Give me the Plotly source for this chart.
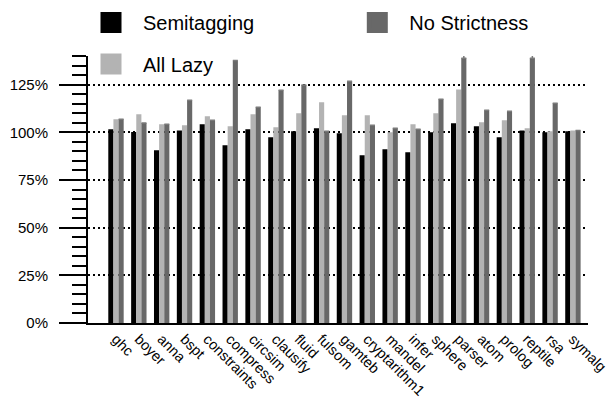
import plotly.graph_objects as go

categories = ["ghc", "boyer", "anna", "bspt", "constraints", "compress", "circsim",
              "clausify", "fluid", "fulsom", "gamteb", "cryptarithm1", "mandel",
              "infer", "sphere", "parser", "atom", "prolog", "reptile", "rsa", "symalg"]

semitagging = [101.6, 100.2, 90.6, 101.0, 104.2, 93.2, 101.6, 97.4, 100.5, 102.1, 99.5,
               88.0, 91.1, 89.5, 100.0, 104.7, 103.1, 97.4, 101.0, 100.0, 100.5]
all_lazy = [106.8, 109.4, 104.2, 103.7, 108.4, 103.1, 109.4, 102.6, 110.0, 115.7, 108.9,
            108.9, 100.0, 104.2, 110.0, 122.5, 105.2, 106.3, 102.1, 100.5, 101.0]
no_strictness = [106.8, 104.9, 104.2, 116.8, 106.3, 137.7, 113.1, 122.0, 124.8, 100.5, 126.7,
                 103.7, 102.1, 101.6, 117.3, 138.8, 111.5, 111.0, 138.8, 115.2, 101.0]
# off-scale indicator above clipped bars (parser, reptile)
no_strictness_overflow = [None] * 15 + [7.7] + [None] * 2 + [7.7] + [None] * 2

y_ticks = [0, 25, 50, 75, 100, 125]
y_tick_labels = ["0%", "25%", "50%", "75%", "100%", "125%"]

BLACK = "#000000"
LIGHT = "#b3b3b3"
DARK = "#686868"
FONT = "Liberation Sans, Arial, Helvetica, sans-serif"

fig = go.Figure()
fig.add_trace(go.Bar(x=categories, y=semitagging, name="Semitagging",
                     marker=dict(color=BLACK, line=dict(width=0)), showlegend=False))
fig.add_trace(go.Bar(x=categories, y=all_lazy, name="All Lazy",
                     marker=dict(color=LIGHT, line=dict(width=0)), showlegend=False))
fig.add_trace(go.Bar(x=categories, y=no_strictness, name="No Strictness",
                     marker=dict(color=DARK, line=dict(width=0)), showlegend=False,
                     cliponaxis=False,
                     error_y=dict(type="data", symmetric=False, array=no_strictness_overflow,
                                  arrayminus=[0] * len(categories), color="#7a7a7a",
                                  thickness=1.5, width=2.5)))

# legend entries
for name, col, lg in [("Semitagging", BLACK, "legend"), ("No Strictness", DARK, "legend2"),
                      ("All Lazy", LIGHT, "legend3")]:
    fig.add_trace(go.Scatter(x=[None], y=[None], mode="markers", name=name, legend=lg,
                             marker=dict(symbol="square", size=16, color=col,
                                         line=dict(width=5, color=col))))

legend_common = dict(orientation="h", xanchor="left", yanchor="middle",
                     bgcolor="rgba(0,0,0,0)", itemwidth=54, borderwidth=0,
                     font=dict(family=FONT, size=20, color="black"))

fig.update_layout(
    width=608, height=405,
    margin=dict(l=88, r=20, t=56, b=82, autoexpand=False),
    paper_bgcolor="white", plot_bgcolor="white",
    barmode="group", bargap=0.3265, bargroupgap=0,
    font=dict(family=FONT, color="black"),
    legend=dict(x=-0.018, y=1.1255, **legend_common),
    legend2=dict(x=0.5146, y=1.1255, **legend_common),
    legend3=dict(x=-0.018, y=0.970, **legend_common),
    xaxis=dict(type="category", range=[-1.225, 20.66], showline=True, linecolor="black",
               linewidth=2, ticks="", tickangle=45, showgrid=False,
               tickfont=dict(family=FONT, size=14.5, color="black")),
    yaxis=dict(range=[0, 140], tickmode="array", tickvals=y_ticks, ticktext=y_tick_labels,
               showline=True, ticklabelstandoff=8,
               linecolor="black", linewidth=2, ticks="outside", ticklen=27, tickwidth=2,
               tickcolor="black", showgrid=True, gridcolor="black", gridwidth=2,
               griddash="2px,3px", zeroline=False,
               tickfont=dict(family=FONT, size=15, color="black"),
               minor=dict(dtick=5, tick0=0, ticks="outside", ticklen=14, tickwidth=2,
                          tickcolor="black", showgrid=False)),
)

fig.write_html("out.html")
